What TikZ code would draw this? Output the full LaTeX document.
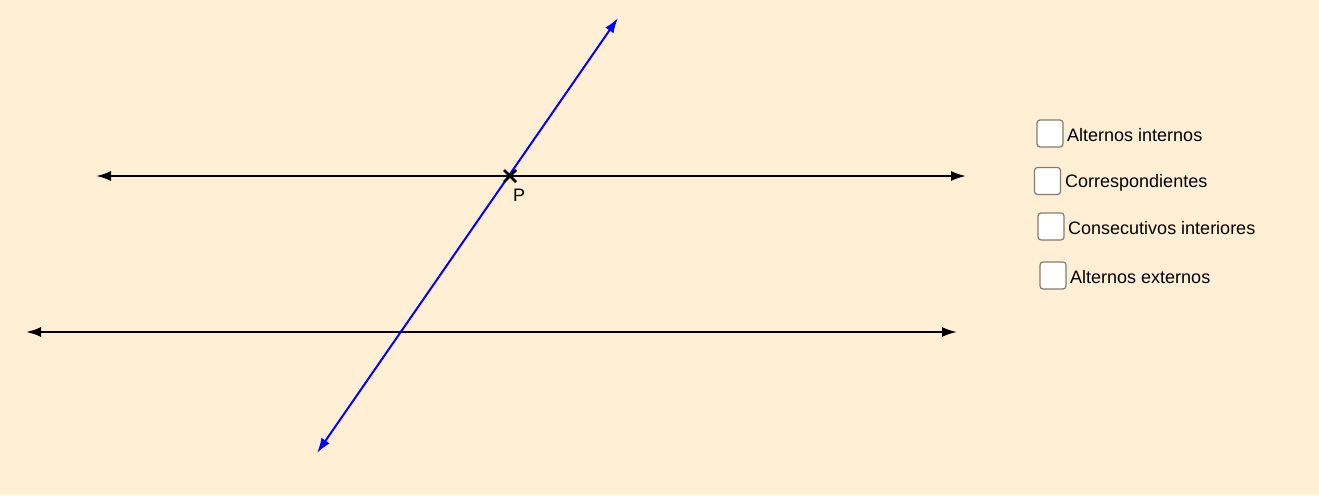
\documentclass[tikz,border=0pt]{standalone}
\usepackage{fontspec}
\setmainfont{Liberation Sans}
\usetikzlibrary{arrows.meta,calc}
\definecolor{bg}{HTML}{FFEFD5}
\definecolor{boxedge}{HTML}{857B6E}
\tikzset{
  hline/.style={line width=2pt, black, {Latex[length=15pt,width=10pt]}-{Latex[length=15pt,width=10pt]}},
  tline/.style={line width=2pt, blue, {Latex[length=15pt,width=10pt]}-{Latex[length=15pt,width=10pt]}},
  cbox/.style={draw=boxedge, line width=1.2pt, fill=white, rounded corners=3pt, minimum width=26pt, minimum height=27pt, inner sep=0pt},
  lbl/.style={anchor=west, font=\fontsize{18pt}{21pt}\selectfont, inner sep=0pt},
}
\begin{document}
\begin{tikzpicture}[x=1pt,y=-1pt]
\useasboundingbox[fill=bg] (0,0) rectangle (1319,495);
% horizontal lines
\coordinate (a1) at (96,176);
\coordinate (a2) at (966,176);
\coordinate (b1) at (26,332);
\coordinate (b2) at (957,332);
\draw[hline] (a1) -- (a2);
\draw[hline] (b1) -- (b2);
% transversal
\coordinate (t1) at (618,18);
\coordinate (t2) at (317,453);
\draw[tline] (t2) -- (t1);
% point P
\coordinate (P) at (510,176);
\draw[line width=2.6pt, black] ($(P)+(-6,-6)$) -- ($(P)+(6,6)$);
\draw[line width=2.6pt, black] ($(P)+(-6,6)$) -- ($(P)+(6,-6)$);
\node[lbl] (Plabel) at (513,195) {P};
% checkboxes
\node[cbox] (c1) at (1050,133.5) {};
\node[lbl] (l1) at (1067,135) {Alternos internos};
\node[cbox] (c2) at (1047.5,181) {};
\node[lbl] (l2) at (1065,183) {Correspondientes};
\node[cbox] (c3) at (1051,226.5) {};
\node[lbl] (l3) at (1068,228) {Consecutivos interiores};
\node[cbox] (c4) at (1053,275.5) {};
\node[lbl] (l4) at (1070,277) {Alternos externos};
\end{tikzpicture}
\end{document}
